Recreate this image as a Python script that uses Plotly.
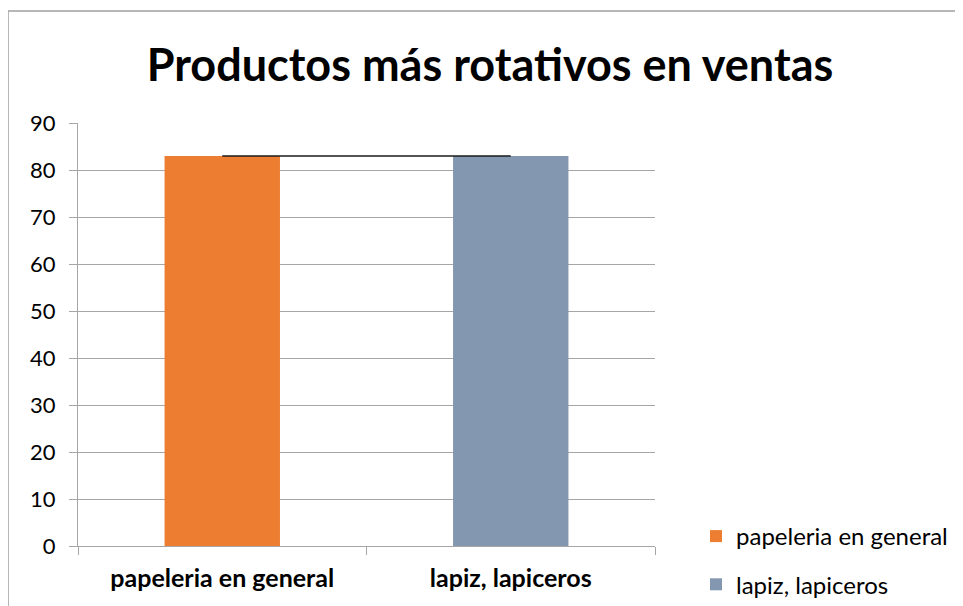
import plotly.graph_objects as go

categories = ["papeleria en general", "lapiz, lapiceros"]
values = [83, 83]
colors = ["#ED7D31", "#8497B0"]
line_values = [83, 83]

fig = go.Figure()

# one trace per category so each gets its own legend entry
for i, cat in enumerate(categories):
    fig.add_trace(go.Bar(
        x=[cat], y=[values[i]], name=cat,
        marker=dict(color=colors[i], line=dict(width=0)),
        width=0.4, legendgroup=cat,
    ))

fig.add_trace(go.Scatter(
    x=categories, y=line_values, mode="lines",
    line=dict(color="#1a1a1a", width=1.5), showlegend=False, hoverinfo="skip",
))

# page body keeps its 8px margin, so everything is placed 8px up/left
W, H = 955, 598
fig.update_layout(
    width=W, height=H,
    paper_bgcolor="white", plot_bgcolor="white",
    barmode="overlay",
    margin=dict(l=70, r=308, t=115, b=60, autoexpand=False),
    font=dict(family="Lato, Open Sans, sans-serif", color="#000000"),
    title=dict(text="<b>Productos más rotativos en ventas</b>",
               x=482 / W, xanchor="center", y=1 - 57 / H, yanchor="middle",
               font=dict(size=45, color="#000000")),
    legend=dict(xref="container", yref="container",
                x=688 / W, xanchor="left", y=1 - 506 / H, yanchor="top",
                font=dict(size=24), traceorder="grouped", tracegroupgap=14,
                itemwidth=30, bgcolor="rgba(0,0,0,0)"),
    showlegend=True,
)

fig.update_xaxes(
    automargin=False,
    showline=True, linecolor="#a6a6a6", linewidth=1,
    ticks="outside", tickson="boundaries", ticklen=8, tickcolor="#a6a6a6",
    tickfont=dict(size=25, family="Lato, Open Sans, sans-serif"),
    tickprefix="<b>", ticksuffix="</b>", ticklabelstandoff=10,
    showgrid=False,
)

fig.update_yaxes(
    automargin=False,
    range=[0, 90], dtick=10,
    showline=True, linecolor="#a6a6a6", linewidth=1,
    ticks="outside", ticklen=8, tickcolor="#a6a6a6",
    showgrid=True, gridcolor="#a6a6a6", gridwidth=1,
    zeroline=False,
    tickfont=dict(size=22), ticklabelstandoff=9,
)

# outer chart border
fig.add_shape(type="rect", xref="paper", yref="paper",
              x0=-70 / 577, x1=1.7, y0=-0.2, y1=(538 - 3) / 423,
              line=dict(color="#a0a0a0", width=1.5), layer="below")

fig.write_html("out.html")
